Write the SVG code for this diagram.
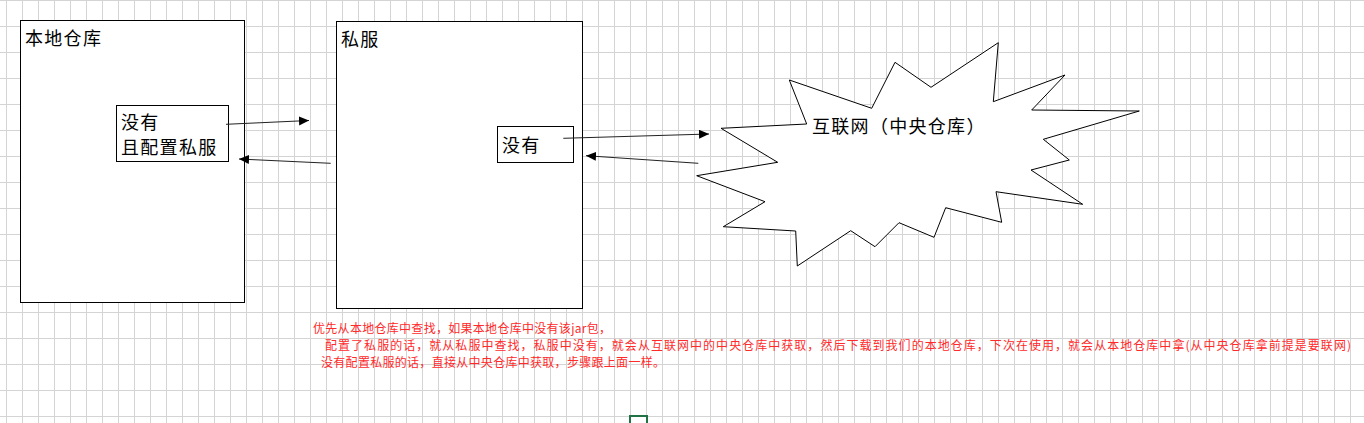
<svg xmlns="http://www.w3.org/2000/svg" width="1364" height="423" viewBox="0 0 1364 423">
<style>
.box{fill:#fff;stroke:#000;stroke-width:1}
.lbl{font-family:"Noto Sans CJK SC","Liberation Sans",sans-serif;font-size:18px;letter-spacing:1.3px;fill:#000}
.note{font-family:"Noto Sans CJK SC","Liberation Sans",sans-serif;font-size:12px;fill:#ff2a2a}
.conn{stroke:#222;stroke-width:1;fill:none;marker-end:url(#arr)}
</style>
<defs>
<pattern id="grid" patternUnits="userSpaceOnUse" x="6" y="0" width="16" height="26">
<rect width="16" height="26" fill="#fff"/>
<path d="M0.5,0V26M0,0.5H16" stroke="#d4d4d4" stroke-width="1" fill="none"/>
</pattern>
<marker id="arr" markerUnits="userSpaceOnUse" markerWidth="11" markerHeight="10" refX="10" refY="4.5" orient="auto">
<path d="M0,0L10,4.5L0,9z" fill="#000"/>
</marker>
</defs>
<rect width="1364" height="423" fill="url(#grid)"/>
<g id="local-repo">
<rect class="box" x="20.5" y="20.5" width="224" height="282"/>
<text class="lbl" x="25" y="45">本地仓库</text>
</g>
<g id="private-server">
<rect class="box" x="336.5" y="21.5" width="246" height="287"/>
<text class="lbl" x="341" y="46">私服</text>
</g>
<g id="local-missing">
<rect class="box" x="116.5" y="105.5" width="112" height="56"/>
<text class="lbl" x="121" y="129">没有</text>
<text class="lbl" x="121" y="154">且配置私服</text>
</g>
<g id="server-missing">
<rect class="box" x="497.5" y="126.5" width="76" height="36"/>
<text class="lbl" x="502" y="152">没有</text>
</g>
<g id="internet">
<polygon class="box" points="789.3,80 871.7,108.3 895,62.3 931,87.3 998.3,42.7 993.3,101.7 1065,75 1031.7,110 1139.3,111 1043.3,139.3 1069.3,160 1031,170 1082.7,204.3 996,191.7 1001.7,222.3 945.7,207.7 934,237.3 899,222.7 875,246.7 850.7,230.7 797.3,266 795.7,231 723.3,226.7 765,201.7 696.7,175.7 777.7,162.3 721,128.3 806.7,124"/>
<text class="lbl" x="812" y="133">互联网（中央仓库）</text>
</g>
<g id="connectors">
<line class="conn" x1="226" y1="124.3" x2="309" y2="120.5"/>
<line class="conn" x1="330.7" y1="163.3" x2="239" y2="159"/>
<line class="conn" x1="563.3" y1="138.3" x2="709" y2="134"/>
<line class="conn" x1="698.3" y1="163.3" x2="586" y2="155.7"/>
</g>
<g id="notes">
<text class="note" x="313" y="333" textLength="298" lengthAdjust="spacing">优先从本地仓库中查找，如果本地仓库中没有该jar包，</text>
<text class="note" x="325" y="350" textLength="1026" lengthAdjust="spacing">配置了私服的话，就从私服中查找，私服中没有，就会从互联网中的中央仓库中获取，然后下载到我们的本地仓库，下次在使用，就会从本地仓库中拿(从中央仓库拿前提是要联网)</text>
<text class="note" x="321" y="366.5" textLength="344" lengthAdjust="spacing">没有配置私服的话，直接从中央仓库中获取，步骤跟上面一样。</text>
</g>
<path d="M630,423V416H647V423" fill="none" stroke="#217346" stroke-width="2"/>
</svg>
